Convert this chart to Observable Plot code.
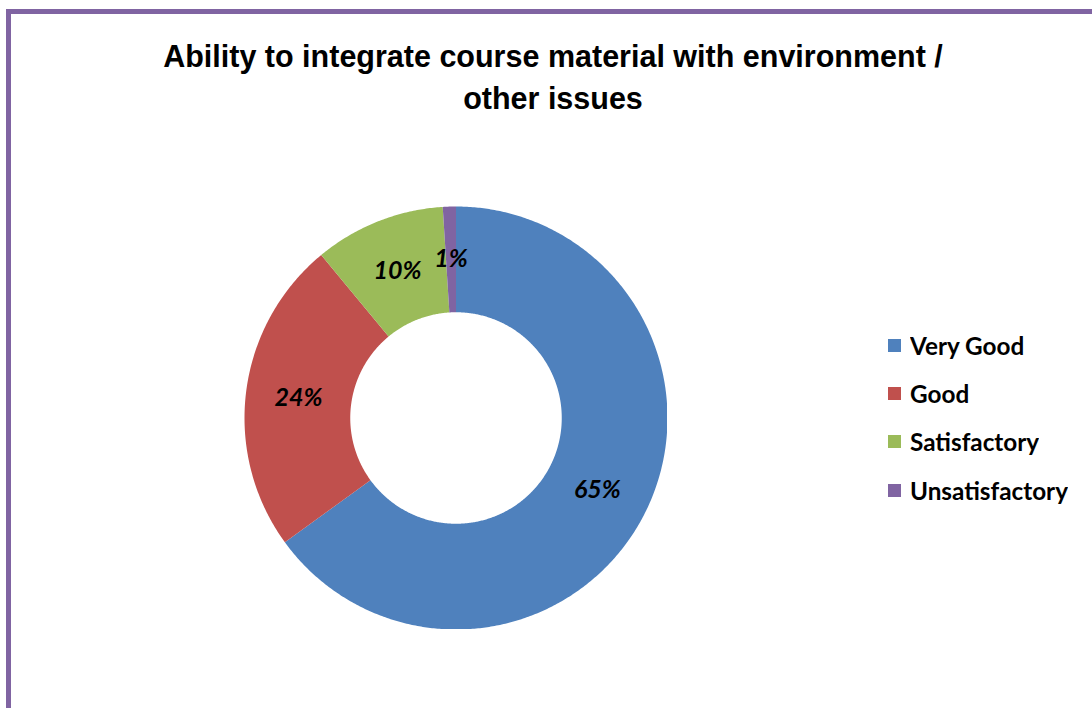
<!DOCTYPE html>
<html><head><meta charset="utf-8">
<script src="https://cdn.jsdelivr.net/npm/d3@7"></script>
<script src="https://cdn.jsdelivr.net/npm/@observablehq/plot@0.6"></script>
<style>
html,body{margin:0;padding:0;background:#fff;overflow:hidden;}
#page{position:relative;width:1092px;height:708px;overflow:hidden;background:#fff;}
#frame{position:absolute;left:6px;top:9px;width:2000px;height:2000px;border-left:5px solid #8064a2;border-top:5px solid #8064a2;box-sizing:border-box;}
#title{position:absolute;left:53px;top:35px;width:1000px;text-align:center;font-family:"Liberation Sans",Arial,sans-serif;font-weight:bold;font-size:30.5px;line-height:42px;color:#000;}
#chart{position:absolute;left:244px;top:206px;}
#legend{position:absolute;left:888px;top:321px;}
.leg-swatches{font-family:Lato,sans-serif;font-size:24.3px;font-weight:bold;color:#000;margin:0;}
.leg-swatch{height:48.3px;padding-bottom:0 !important;}
.leg-swatch > svg{margin-right:9px;}
</style></head><body>
<div id="page"><div id="frame"></div><div id="title"></div><div id="chart"></div><div id="legend"></div></div>
<script>
const titleLines = ["Ability to integrate course material with environment /", "other issues"];
const categories = ["Very Good", "Good", "Satisfactory", "Unsatisfactory"];
const values = [65, 24, 10, 1];
const valueLabels = ["65%", "24%", "10%", "1%"];
const colors = ["#4F81BD", "#C0504D", "#9BBB59", "#8064A2"];
const holeRatio = 0.5;

document.getElementById("title").innerHTML = titleLines.join("<br>");

// Donut drawn with Plot's geo mark in an azimuthal-equidistant projection centred on the pole:
// longitude -> angle, colatitude -> radius.
const outerColat = 60, innerColat = outerColat * holeRatio;
const total = d3.sum(values);
let acc = 0;
const slices = values.map((v, i) => {
  const a0 = acc / total * 360; acc += v; const a1 = acc / total * 360;
  return {category: categories[i], label: valueLabels[i], a0, a1};
});
const lonOf = (theta) => 180 - theta; // clockwise from 12 o'clock
function ringFor(s) {
  const n = Math.max(2, Math.ceil((s.a1 - s.a0) / 0.5));
  const outer = [], inner = [];
  for (let k = 0; k <= n; k++) {
    const t = s.a0 + (s.a1 - s.a0) * k / n;
    outer.push([lonOf(t), 90 - outerColat]);
    inner.push([lonOf(t), 90 - innerColat]);
  }
  const ring = outer.concat(inner.reverse());
  ring.push(ring[0]);
  return ring;
}
const features = slices.map(s => {
  let f = {type: "Feature", properties: {category: s.category}, geometry: {type: "Polygon", coordinates: [ringFor(s)]}};
  if (d3.geoArea(f) > 2 * Math.PI) f.geometry.coordinates[0].reverse();
  return f;
});
const labelData = slices.map(s => ({
  label: s.label,
  lon: lonOf((s.a0 + s.a1) / 2),
  lat: 90 - (outerColat + innerColat) / 2
}));

const colorScale = {type: "ordinal", domain: categories, range: colors};
const chart = Plot.plot({
  width: 423, height: 423, margin: 0,
  projection: {type: "azimuthal-equidistant", rotate: [0, -90], inset: 0,
               domain: d3.geoCircle().center([0, 90]).radius(outerColat)()},
  color: colorScale,
  marks: [
    Plot.geo(features, {fill: d => d.properties.category}),
    Plot.text(labelData, {x: "lon", y: "lat", text: "label", fill: "black",
      fontFamily: "Lato", fontSize: 25, fontWeight: "bold", fontStyle: "italic"})
  ]
});
document.getElementById("chart").appendChild(chart);

const legend = Plot.legend({color: colorScale, legend: "swatches", columns: 1, swatchSize: 13, className: "leg"});
document.getElementById("legend").appendChild(legend);
</script>
</body></html>
